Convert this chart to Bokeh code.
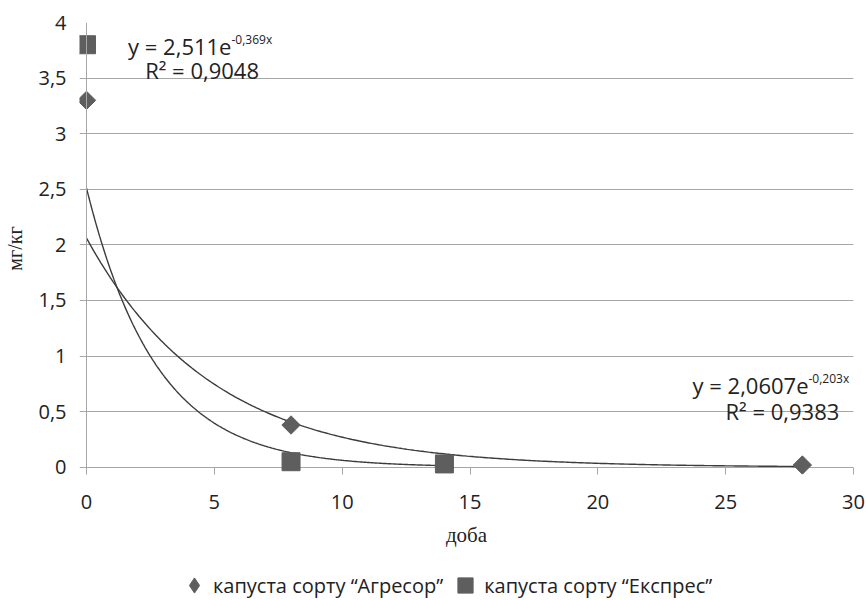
import numpy as np
from bokeh.plotting import figure
from bokeh.layouts import column
from bokeh.models import (Range1d, FixedTicker, CustomJSTickFormatter, Span, Label,
                          Legend, LegendItem)
from bokeh.embed import file_html
from bokeh.resources import INLINE

# ---- data ----
agr_day = [0, 8, 28]
agr_val = [3.3, 0.38, 0.02]
exp_day = [0, 8, 14]
exp_val = [3.8, 0.05, 0.03]

# exponential trend lines (y = a * e^(b x))
agr_a, agr_b = 2.0607, -0.203
exp_a, exp_b = 2.511, -0.369
agr_eq = ["y = 2,0607e", "-0,203x", "R² = 0,9383"]
exp_eq = ["y = 2,511e", "-0,369x", "R² = 0,9048"]

agr_name = "капуста сорту “Агресор”"
exp_name = "капуста сорту “Експрес”"

x_ticks = [0, 5, 10, 15, 20, 25, 30]
y_ticks = [0, 0.5, 1, 1.5, 2, 2.5, 3, 3.5, 4]

GRID = "#a6a6a6"
MARK = "#5e5e5e"
TREND = "#3c3c3c"
TXT = "#222222"
SANS = "Open Sans"
SERIF = "Liberation Serif"

W = 866
H_MAIN = 550
H_LEG = 50

p = figure(width=W, height=H_MAIN, output_backend="svg", toolbar_location=None,
           x_range=Range1d(-0.274, 30), y_range=Range1d(-0.065, 4),
           min_border_left=79, min_border_right=13, min_border_top=22,
           min_border_bottom=76)
p.outline_line_color = None
p.background_fill_color = "white"
p.border_fill_color = "white"

# grids
p.xgrid.grid_line_color = None
p.ygrid.grid_line_color = GRID
p.ygrid.grid_line_width = 1
p.ygrid.ticker = FixedTicker(ticks=y_ticks)

fmt = CustomJSTickFormatter(code="return tick.toString().replace('.', ',');")

# y axis
p.yaxis.ticker = FixedTicker(ticks=y_ticks)
p.yaxis.formatter = fmt
p.yaxis.axis_line_color = None
p.yaxis.major_tick_line_color = None
p.yaxis.major_tick_in = 0
p.yaxis.major_tick_out = 0
p.yaxis.minor_tick_line_color = None
p.yaxis.minor_tick_in = 0
p.yaxis.minor_tick_out = 0
p.yaxis.major_label_standoff = 13
p.yaxis.major_label_text_font = SANS
p.yaxis.major_label_text_font_size = "20px"
p.yaxis.major_label_text_color = TXT
p.yaxis.axis_label = "мг/кг"
p.yaxis.axis_label_text_font = SERIF
p.yaxis.axis_label_text_font_size = "20px"
p.yaxis.axis_label_text_font_style = "normal"
p.yaxis.axis_label_text_color = TXT
p.yaxis.axis_label_standoff = 9

# x axis
p.xaxis.ticker = FixedTicker(ticks=x_ticks)
p.xaxis.formatter = fmt
p.xaxis.axis_line_color = None
p.xaxis.major_tick_line_color = GRID
p.xaxis.major_tick_in = 7
p.xaxis.major_tick_out = 0
p.xaxis.minor_tick_line_color = None
p.xaxis.minor_tick_in = 0
p.xaxis.minor_tick_out = 0
p.xaxis.major_label_standoff = 20
p.xaxis.major_label_text_font = SANS
p.xaxis.major_label_text_font_size = "20px"
p.xaxis.major_label_text_color = TXT
p.xaxis.axis_label = "доба"
p.xaxis.axis_label_text_font = SERIF
p.xaxis.axis_label_text_font_size = "21px"
p.xaxis.axis_label_text_font_style = "normal"
p.xaxis.axis_label_text_color = TXT
p.xaxis.axis_label_standoff = 11

# vertical axis line at x = 0
p.add_layout(Span(location=0, dimension="height", line_color=GRID, line_width=1))

# trend lines
xa = np.linspace(0, max(agr_day), 300)
xe = np.linspace(0, max(exp_day), 300)
p.line(xa, agr_a * np.exp(agr_b * xa), line_color=TREND, line_width=1.4)
p.line(xe, exp_a * np.exp(exp_b * xe), line_color=TREND, line_width=1.4)

# points
p.scatter(agr_day, agr_val, marker="square", angle=np.pi / 4, size=13,
          fill_color=MARK, line_color=MARK)
p.scatter(exp_day, exp_val, marker="square", size=18,
          fill_color=MARK, line_color=MARK)

# equation labels
def eq_labels(eq, x_e, y1, x_r, y2):
    p.add_layout(Label(x=x_e, y=y1, text=eq[0], text_align="right", text_baseline="middle",
                       text_font=SANS, text_font_size="22px", text_color=TXT))
    p.add_layout(Label(x=x_e, y=y1, y_offset=6, text=eq[1], text_align="left",
                       text_baseline="middle", text_font=SANS, text_font_size="12px",
                       text_color=TXT))
    p.add_layout(Label(x=x_r, y=y2, text=eq[2], text_align="center", text_baseline="middle",
                       text_font=SANS, text_font_size="22px", text_color=TXT))

eq_labels(exp_eq, 5.67, 3.79, 4.52, 3.573)
eq_labels(agr_eq, 28.24, 0.74, 27.22, 0.508)

# ---- legend strip below the chart ----
pl = figure(width=W, height=H_LEG, output_backend="svg", toolbar_location=None,
            x_range=Range1d(0, 1), y_range=Range1d(0, 1),
            x_axis_type=None, y_axis_type=None, min_border=0)
pl.outline_line_color = None
pl.xgrid.grid_line_color = None
pl.ygrid.grid_line_color = None
# legend proxies, placed outside the visible range
r_agr_leg = pl.scatter([-1], [-1], marker="diamond", size=15, fill_color=MARK, line_color=MARK)
r_exp_leg = pl.scatter([-1], [-1], marker="square", size=15, fill_color=MARK, line_color=MARK)

legend = Legend(items=[LegendItem(label=agr_name, renderers=[r_agr_leg]),
                       LegendItem(label=exp_name, renderers=[r_exp_leg])],
                orientation="horizontal", location=(96, -4),
                label_text_font=SANS, label_text_font_size="20px",
                label_text_color=TXT, border_line_color=None,
                background_fill_alpha=0, glyph_width=38, glyph_height=38,
                spacing=3, padding=0, margin=0, label_standoff=0)
pl.add_layout(legend, "center")

layout = column(p, pl, spacing=0)
open("out.html", "w").write(file_html(layout, INLINE))
